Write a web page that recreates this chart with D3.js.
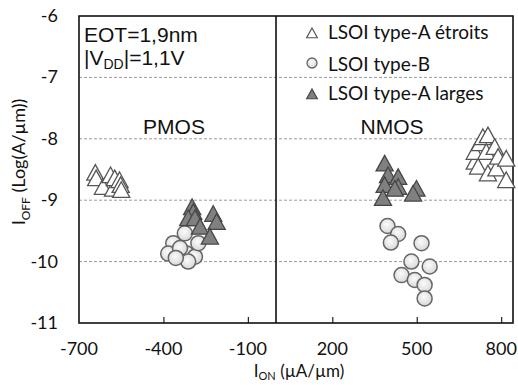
<!DOCTYPE html>
<html><head><meta charset="utf-8">
<script src="https://cdn.jsdelivr.net/npm/d3@7"></script>
<style>body{margin:0;background:#fff}svg{display:block}</style>
</head><body>
<script>
// ---- data (I_ON in µA/µm, I_OFF as log10(A/µm)) ----
const xTicks = [-700, -400, -100, 200, 500, 800];
const yTicks = [-6, -7, -8, -9, -10, -11];
const gridY = [-7, -8, -9, -10];
const seriesNames = ["LSOI type-A étroits", "LSOI type-B", "LSOI type-A larges"];
const narrowA = [
  [-642,-8.55],[-639,-8.64],[-615,-8.78],[-588,-8.59],[-579,-8.81],[-573,-8.64],[-556,-8.67],[-552,-8.75],[-550,-8.83],
  [706,-8.37],[718,-8.45],[753,-8.56],[783,-8.48],[818,-8.67],[706,-8.21],[724,-8.07],[735,-7.97],[753,-7.94],[747,-8.21],[777,-8.13],[789,-8.29],[818,-8.32]
];
const typeB = [
  [-324,-9.54],[-365,-9.70],[-383,-9.87],[-318,-9.87],[-288,-9.92],[-312,-10.0],[-341,-9.78],[-276,-9.70],[-356,-9.94],
  [396,-9.42],[434,-9.55],[408,-9.69],[517,-9.70],[481,-10.0],[546,-10.08],[446,-10.22],[493,-10.30],[528,-10.38],[528,-10.60]
];
const wideA = [
  [-298,-9.11],[-294,-9.19],[-312,-9.29],[-288,-9.29],[-270,-9.43],[-223,-9.22],[-211,-9.35],[-235,-9.59],
  [386,-8.40],[398,-8.59],[434,-8.62],[434,-8.78],[386,-8.75],[380,-8.96],[422,-8.81],[499,-8.81],[487,-8.89]
];
const divider = 0;

const W = 518, H = 385;
const svg = d3.select("body").append("svg").attr("width", W).attr("height", H);
const x = d3.scaleLinear().domain([-700, 842]).range([79, 513]);
const y = d3.scaleLinear().domain([-11, -6]).range([323, 16]);

const defs = svg.append("defs");
const rg = defs.append("radialGradient").attr("id", "cg").attr("cx", "45%").attr("cy", "40%").attr("r", "60%");
rg.append("stop").attr("offset", "0%").attr("stop-color", "#fbfbfb");
rg.append("stop").attr("offset", "100%").attr("stop-color", "#d8d8d8");

// grid
svg.append("g").selectAll("line").data(gridY).join("line")
  .attr("x1", x(-700)).attr("x2", x(842)).attr("y1", d => y(d)).attr("y2", d => y(d))
  .attr("stroke", "#9a9a9a").attr("stroke-width", 1).attr("stroke-dasharray", "3,2");

// x axis (inner ticks)
const xa = svg.append("g").attr("transform", `translate(0,${y(-11)})`)
  .call(d3.axisBottom(x).tickValues(xTicks.slice(1)).tickSize(-6).tickFormat(""));
xa.select(".domain").remove();
xa.selectAll(".tick line").attr("stroke", "#222").attr("stroke-width", 1.2);

svg.append("g").selectAll("text").data(xTicks).join("text")
  .attr("x", d => x(d)).attr("y", 355).attr("text-anchor", "middle")
  .style("font-family", "Lato, sans-serif").style("font-size", "18px").attr("fill", "#111")
  .text(d => d);
svg.append("g").selectAll("text").data(yTicks).join("text")
  .attr("x", 58).attr("y", d => y(d) + 6).attr("text-anchor", "end")
  .style("font-family", "Lato, sans-serif").style("font-size", "18px").attr("fill", "#111")
  .text(d => d);

// frame + divider
svg.append("rect").attr("x", x(-700)).attr("y", y(-6)).attr("width", x(842) - x(-700)).attr("height", y(-11) - y(-6))
  .attr("fill", "none").attr("stroke", "#111").attr("stroke-width", 1.6);
svg.append("line").attr("x1", x(divider)).attr("x2", x(divider)).attr("y1", y(-6)).attr("y2", y(-11))
  .attr("stroke", "#111").attr("stroke-width", 1.6);

// markers
const tri = (s) => `M0,${-s}L${s*1.07},${s*0.95}L${-s*1.07},${s*0.95}Z`;
const g = svg.append("g");
g.selectAll(".na").data(narrowA).join("path").attr("class", "na")
  .attr("transform", d => `translate(${x(d[0])},${y(d[1])})`).attr("d", tri(8))
  .attr("fill", "#fff").attr("stroke", "#555").attr("stroke-width", 1.3);
g.selectAll(".tb").data(typeB).join("circle").attr("class", "tb")
  .attr("cx", d => x(d[0])).attr("cy", d => y(d[1])).attr("r", 7.5)
  .attr("fill", "url(#cg)").attr("stroke", "#666").attr("stroke-width", 1.5);
g.selectAll(".wa").data(wideA).join("path").attr("class", "wa")
  .attr("transform", d => `translate(${x(d[0])},${y(d[1])})`).attr("d", tri(8))
  .attr("fill", "#808080").attr("stroke", "#454545").attr("stroke-width", 1.3);

// annotations
const ann = svg.append("g").style("font-family", "'Liberation Sans', Arial, sans-serif").attr("fill", "#111");
ann.append("text").attr("x", 84).attr("y", 42).style("font-size", "21px").text("EOT=1,9nm");
const vdd = ann.append("text").attr("x", 84).attr("y", 65).style("font-size", "21px");
vdd.append("tspan").text("|V");
vdd.append("tspan").attr("dy", 4).style("font-size", "14px").text("DD");
vdd.append("tspan").attr("dy", -4).text("|=1,1V");
ann.append("text").attr("x", 174).attr("y", 134).attr("text-anchor", "middle").style("font-size", "21px").text("PMOS");
ann.append("text").attr("x", 392).attr("y", 134).attr("text-anchor", "middle").style("font-size", "21px").text("NMOS");

// legend
const lg = svg.append("g").style("font-family", "Lato, sans-serif").style("font-size", "19px").attr("fill", "#111");
const legY = [39, 71, 100];
lg.selectAll("text").data(seriesNames).join("text")
  .attr("x", 328).attr("y", (d, i) => legY[i]).text(d => d);
lg.append("path").attr("transform", `translate(312,${legY[0]-6})`).attr("d", tri(5))
  .attr("fill", "#fff").attr("stroke", "#555").attr("stroke-width", 1.2);
lg.append("circle").attr("cx", 312).attr("cy", legY[1] - 8).attr("r", 5)
  .attr("fill", "url(#cg)").attr("stroke", "#666").attr("stroke-width", 1.3);
lg.append("path").attr("transform", `translate(312,${legY[2]-6})`).attr("d", tri(5))
  .attr("fill", "#808080").attr("stroke", "#454545").attr("stroke-width", 1.2);

// axis titles
const xt = svg.append("text").attr("x", 299).attr("y", 377).attr("text-anchor", "middle")
  .style("font-family", "Lato, sans-serif").style("font-size", "17px").attr("fill", "#111");
xt.append("tspan").text("I");
xt.append("tspan").attr("dy", 3).style("font-size", "11px").text("ON");
xt.append("tspan").attr("dy", -3).text(" (µA/µm)");
const yt = svg.append("text").attr("transform", "translate(25,162) rotate(-90)").attr("text-anchor", "middle")
  .style("font-family", "Lato, sans-serif").style("font-size", "18px").attr("fill", "#111");
yt.append("tspan").text("I");
yt.append("tspan").attr("dy", 5).style("font-size", "12px").text("OFF");
yt.append("tspan").attr("dy", -5).text(" (Log(A/µm))");
</script>
</body></html>
